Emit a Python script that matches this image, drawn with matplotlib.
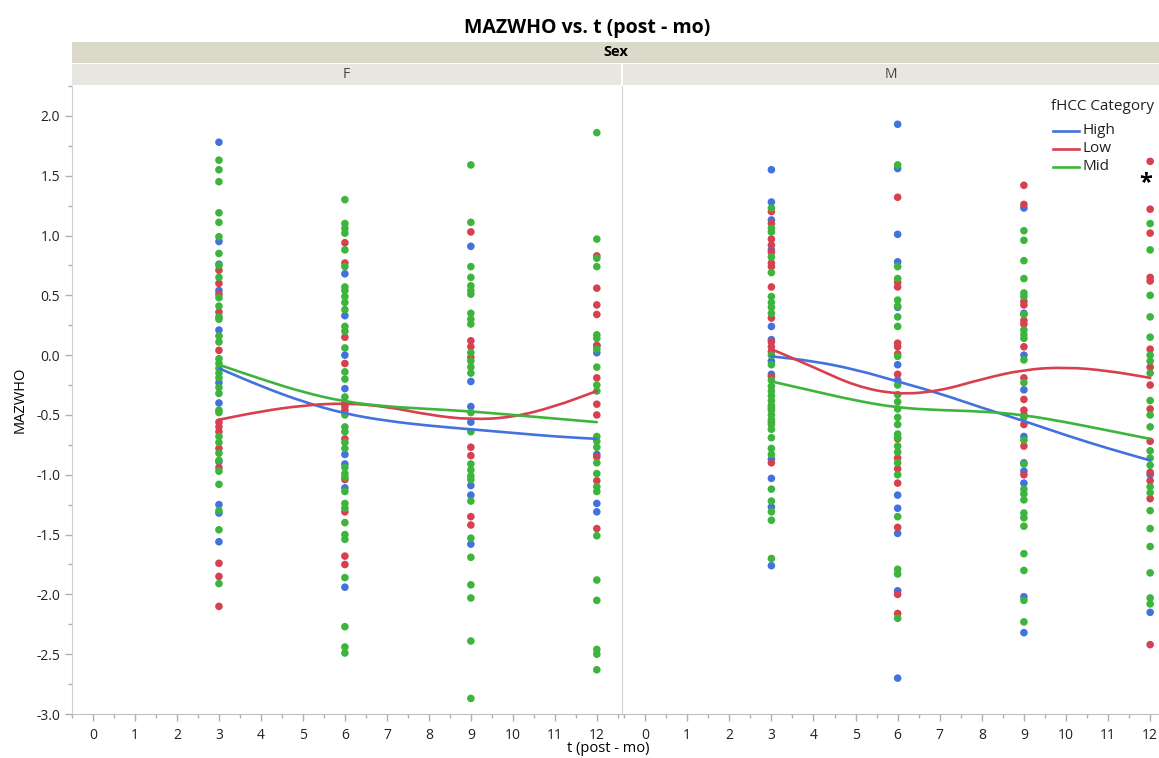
import matplotlib
matplotlib.use("Agg")
from matplotlib import pyplot as plt
from matplotlib.lines import Line2D
from matplotlib.path import Path
from matplotlib.patches import PathPatch
from matplotlib.ticker import MultipleLocator

plt.rcParams["font.family"] = ["Open Sans", "DejaVu Sans"]

times = [3, 6, 9, 12]
categories = ["High", "Low", "Mid"]
colors = {"High": "#4272de", "Low": "#d8404f", "Mid": "#3db53d"}

# MAZWHO per visit time, one dict per sex and fHCC category
f_high = {
    3: [1.78, 0.95, 0.76, 0.54, 0.21, -0.23, -0.40, -0.89, -1.25, -1.32, -1.56],
    6: [0.68, 0.33, 0.00, -0.28, -0.83, -0.91, -1.11, -1.94],
    9: [0.91, -0.22, -0.43, -0.56, -1.09, -1.17, -1.58],
    12: [0.08, 0.02, -0.83, -1.24, -1.31],
}
f_low = {
    3: [0.71, 0.60, 0.51, 0.36, 0.04, -0.56, -0.60, -0.64, -0.78, -0.94, -1.74, -1.85, -2.10],
    6: [0.94, 0.77, 0.15, -0.07, -0.40, -0.43, -0.46, -0.70, -1.04, -1.31, -1.68, -1.75],
    9: [1.03, 0.12, 0.07, -0.02, -0.77, -0.84, -1.35, -1.42],
    12: [0.83, 0.56, 0.42, 0.34, 0.08, -0.19, -0.41, -0.50, -0.85, -1.05, -1.45],
}
f_mid = {
    3: [1.63, 1.55, 1.45, 1.19, 1.11, 0.99, 0.85, 0.75, 0.65, 0.48, 0.41, 0.32, 0.30, 0.16,
        0.11, -0.03, -0.07, -0.11, -0.15, -0.19, -0.27, -0.32, -0.46, -0.48, -0.68, -0.73,
        -0.82, -0.88, -0.97, -1.08, -1.30, -1.46, -1.91],
    6: [1.30, 1.10, 1.06, 1.02, 0.88, 0.74, 0.57, 0.54, 0.49, 0.44, 0.38, 0.24, 0.20, 0.06,
        -0.14, -0.20, -0.35, -0.50, -0.60, -0.64, -0.73, -0.78, -0.94, -0.99, -1.02, -1.14,
        -1.24, -1.28, -1.40, -1.50, -1.54, -1.86, -2.27, -2.44, -2.49],
    9: [1.59, 1.11, 0.74, 0.65, 0.58, 0.54, 0.51, 0.35, 0.30, 0.26, 0.02, -0.05, -0.10,
        -0.15, -0.48, -0.64, -0.91, -0.96, -1.01, -1.04, -1.22, -1.53, -1.69, -1.92, -2.03,
        -2.39, -2.87],
    12: [1.86, 0.97, 0.81, 0.74, 0.17, 0.14, 0.05, -0.10, -0.25, -0.30, -0.68, -0.72, -0.77,
         -0.90, -0.99, -1.10, -1.14, -1.51, -1.88, -2.05, -2.46, -2.50, -2.63],
}
m_high = {
    3: [1.55, 1.28, 1.13, 0.88, 0.24, 0.13, -0.05, -0.16, -0.87, -1.03, -1.27, -1.76],
    6: [1.93, 1.56, 1.01, 0.78, 0.40, -0.08, -0.21, -1.17, -1.28, -1.49, -1.97, -2.70],
    9: [1.23, 0.35, 0.00, -0.29, -0.68, -0.90, -0.97, -1.07, -2.02, -2.32],
    12: [-1.00, -2.15],
}
m_low = {
    3: [1.20, 1.10, 0.97, 0.92, 0.86, 0.77, 0.74, 0.57, 0.31, 0.11, 0.07, 0.03, -0.18,
        -0.44, -0.56, -0.90],
    6: [1.32, 0.61, 0.57, 0.10, 0.07, 0.01, -0.16, -0.70, -0.86, -0.95, -1.07, -1.44,
        -2.00, -2.16],
    9: [1.42, 1.26, 0.45, 0.42, 0.29, 0.26, 0.07, -0.19, -0.37, -0.46, -0.50, -0.58,
        -0.76, -1.00],
    12: [1.62, 1.22, 1.02, 0.65, 0.62, 0.05, -0.10, -0.25, -0.45, -0.72, -0.98, -1.05,
         -1.20, -2.42],
}
m_mid = {
    3: [1.23, 1.06, 1.03, 0.82, 0.69, 0.49, 0.44, 0.40, 0.35, 0.00, -0.08, -0.21, -0.26,
        -0.30, -0.34, -0.38, -0.42, -0.46, -0.50, -0.54, -0.58, -0.62, -0.69, -0.78, -0.83,
        -1.12, -1.22, -1.31, -1.38, -1.70],
    6: [1.59, 0.74, 0.64, 0.46, 0.41, 0.32, 0.24, -0.01, -0.25, -0.33, -0.39, -0.45,
        -0.52, -0.58, -0.66, -0.69, -0.76, -0.81, -0.90, -1.00, -1.35, -1.79, -1.83, -2.20],
    9: [1.04, 0.96, 0.79, 0.64, 0.52, 0.49, 0.34, 0.21, 0.17, 0.14, -0.04, -0.23, -0.52,
        -0.71, -0.91, -1.12, -1.16, -1.21, -1.32, -1.36, -1.43, -1.66, -1.80, -2.05, -2.23],
    12: [1.10, 0.88, 0.50, 0.32, 0.15, 0.00, -0.05, -0.15, -0.38, -0.50, -0.60, -0.80,
         -0.86, -0.92, -1.10, -1.15, -1.30, -1.45, -1.60, -1.82, -2.03, -2.08],
}

# smoother values at t = 3..12
smooth_t = [3, 4, 5, 6, 7, 8, 9, 10, 11, 12]
f_smooth = {
    "High": [-0.11, -0.26, -0.39, -0.49, -0.55, -0.59, -0.62, -0.65, -0.68, -0.70],
    "Low": [-0.54, -0.47, -0.42, -0.40, -0.43, -0.50, -0.54, -0.52, -0.43, -0.30],
    "Mid": [-0.08, -0.20, -0.31, -0.39, -0.43, -0.45, -0.47, -0.50, -0.53, -0.56],
}
m_smooth = {
    "High": [-0.01, -0.05, -0.12, -0.22, -0.32, -0.44, -0.55, -0.67, -0.78, -0.88],
    "Low": [0.05, -0.10, -0.26, -0.33, -0.30, -0.20, -0.12, -0.10, -0.13, -0.19],
    "Mid": [-0.22, -0.30, -0.38, -0.44, -0.46, -0.47, -0.50, -0.56, -0.63, -0.70],
}

W, H = 1159, 758
fig = plt.figure(figsize=(W / 100, H / 100), dpi=100)


def box(x0, y0, x1, y1):
    # pixel box (top-left origin) -> figure fraction rect
    return [x0 / W, 1 - y1 / H, (x1 - x0) / W, (y1 - y0) / H]


def smooth_path(xs, ys):
    # quadratic bezier through the midpoints, ends pinned to first/last value
    pts = list(zip(xs, ys))
    verts = [pts[0]]
    codes = [Path.MOVETO]
    mids = [((a[0] + b[0]) / 2, (a[1] + b[1]) / 2) for a, b in zip(pts[:-1], pts[1:])]
    verts.append(mids[0])
    codes.append(Path.LINETO)
    for i in range(1, len(pts) - 1):
        verts += [pts[i], mids[i]]
        codes += [Path.CURVE3, Path.CURVE3]
    verts.append(pts[-1])
    codes.append(Path.LINETO)
    return Path(verts, codes)


fig.text(587 / W, 1 - 28 / H, "MAZWHO vs. t (post - mo)", ha="center", va="center",
         fontsize=14, fontweight="bold")

strip_sex = fig.add_axes(box(72, 42, 1159, 63))
strip_sex.set_facecolor("#dbd9ca")
strip_sex.text(0.5, 0.5, "Sex", ha="center", va="center", fontsize=10.5, fontweight="bold",
               transform=strip_sex.transAxes)
for name, x0, x1 in [("F", 72, 621), ("M", 623, 1159)]:
    s = fig.add_axes(box(x0, 64, x1, 85))
    s.set_facecolor("#e8e7df")
    s.text(0.5, 0.5, name, ha="center", va="center", fontsize=10, color="#444444",
           transform=s.transAxes)
for s in fig.axes:
    s.set_xticks([])
    s.set_yticks([])
    for sp in s.spines.values():
        sp.set_visible(False)

ax_f = fig.add_axes(box(72, 86, 622, 714))
ax_m = fig.add_axes(box(622, 86, 1159, 714))

panels = [
    (ax_f, {"High": f_high, "Low": f_low, "Mid": f_mid}, f_smooth, (-0.5, 12.6)),
    (ax_m, {"High": m_high, "Low": m_low, "Mid": m_mid}, m_smooth, (-0.55, 12.21)),
]

for ax, groups, smooth, xlim in panels:
    for cat in categories:
        for t in times:
            vals = groups[cat][t]
            ax.scatter([t] * len(vals), vals, s=30, color=colors[cat], edgecolors="none",
                       zorder=2)
    for cat in categories:
        ax.add_patch(PathPatch(smooth_path(smooth_t, smooth[cat]), facecolor="none",
                               edgecolor=colors[cat], lw=1.9, zorder=3,
                               capstyle="round", joinstyle="round"))
    ax.set_xlim(*xlim)
    ax.set_ylim(-3.0, 2.25)
    ax.xaxis.set_major_locator(MultipleLocator(1))
    ax.xaxis.set_minor_locator(MultipleLocator(0.5))
    ax.yaxis.set_major_locator(MultipleLocator(0.5))
    ax.yaxis.set_minor_locator(MultipleLocator(0.25))
    ax.tick_params(axis="both", which="major", length=5, color="#b0b0b0", labelsize=10,
                   labelcolor="#222222", width=1)
    ax.tick_params(axis="both", which="minor", length=3, color="#b0b0b0", width=1)
    ax.tick_params(axis="x", pad=5)
    ax.set_xticks(range(0, 13))
    for side in ["top", "right"]:
        ax.spines[side].set_visible(False)
    ax.spines["bottom"].set_color("#c0c0c0")
    ax.spines["left"].set_color("#d0d0d0")

ax_f.yaxis.set_major_formatter(plt.FuncFormatter(lambda v, p: f"{v:.1f}"))
ax_m.tick_params(axis="y", which="both", left=False, labelleft=False)
ax_f.set_ylabel("MAZWHO", fontsize=10.5, labelpad=6)
fig.text(608 / W, 1 - 749 / H, "t (post - mo)", ha="center", va="center", fontsize=10.5)

ax_m.text(11.9, 1.44, "*", ha="center", va="center", fontsize=17, fontweight="bold")

# legend, laid out by hand in pixel positions
fig.text(1051 / W, 1 - 107 / H, "fHCC Category", ha="left", va="center", fontsize=11,
         color="#222222")
for i, cat in enumerate(categories):
    yy = 1 - (131 + 18 * i) / H
    fig.add_artist(Line2D([1053 / W, 1079 / W], [yy, yy], color=colors[cat], lw=1.9,
                          transform=fig.transFigure))
    fig.text(1082 / W, yy, cat, ha="left", va="center", fontsize=11, color="#222222")

plt.savefig("out.png", dpi=100)
